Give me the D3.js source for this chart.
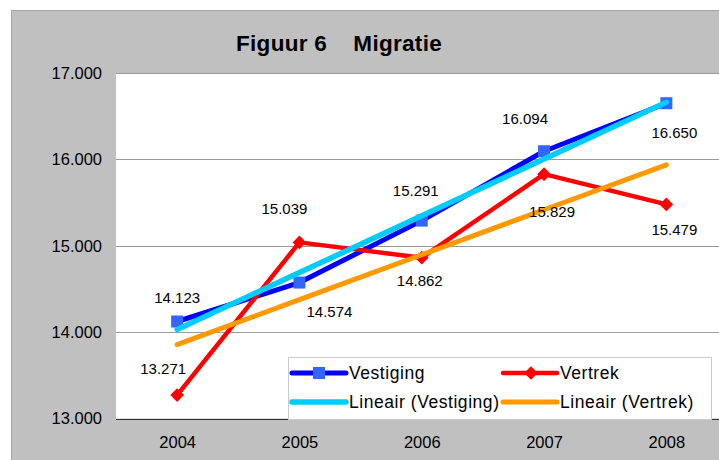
<!DOCTYPE html>
<html>
<head>
<meta charset="utf-8">
<script src="https://cdn.jsdelivr.net/npm/d3@7"></script>
<style>
  html, body { margin: 0; padding: 0; background: #ffffff; }
  svg { display: block; }
  text { font-family: "Liberation Sans", Arial, sans-serif; fill: #000; }
</style>
</head>
<body>
<svg id="chart" width="719" height="460"></svg>
<script>
// ---- data ----
const years = ["2004", "2005", "2006", "2007", "2008"];
const vestiging = [14123, 14574, 15291, 16094, 16650];
const vertrek = [13271, 15039, 14862, 15829, 15479];
const yTicks = [13000, 14000, 15000, 16000, 17000];
const seriesNames = ["Vestiging", "Vertrek", "Lineair (Vestiging)", "Lineair (Vertrek)"];
const titleText = "Figuur 6    Migratie";

// label placement (layout only)
const labelOffsetVestiging = [[0, -24], [30, 29], [-6, -30], [-19, -33], [8, 29]];
const labelOffsetVertrek = [[-14, -27], [-15, -34], [-2, 23], [8, 37], [8, 25]];

const fmt = v => d3.format(",")(v).replace(/,/g, ".");

const svg = d3.select("#chart");
const W = 719, H = 460;
const plot = { left: 116, top: 73, right: 727.5, bottom: 418.5 };

// outer chart area
svg.append("rect").attr("x", 11.5).attr("y", 10.5).attr("width", 760).attr("height", 500)
  .attr("fill", "#c0c0c0").attr("stroke", "#a6a6a6").attr("stroke-width", 1);

// plot area
svg.append("rect").attr("x", plot.left).attr("y", plot.top)
  .attr("width", plot.right - plot.left).attr("height", plot.bottom - plot.top)
  .attr("fill", "#ffffff");

const x = d3.scalePoint().domain(years).range([plot.left, plot.right]).padding(0.5);
const y = d3.scaleLinear().domain([13000, 17000]).range([plot.bottom, plot.top]);

// gridlines
svg.append("g").selectAll("line").data(yTicks.filter(t => t > 13000)).join("line")
  .attr("x1", plot.left).attr("x2", W)
  .attr("y1", d => Math.round(y(d)) + 0.5).attr("y2", d => Math.round(y(d)) + 0.5)
  .attr("stroke", "#9a9a9a").attr("stroke-width", 1);

// y axis labels
const yAxis = d3.axisLeft(y).tickValues(yTicks).tickFormat(d => d3.format(".3f")(d / 1000)).tickSize(0).tickPadding(14);
const yg = svg.append("g").attr("transform", `translate(${plot.left},0)`).call(yAxis);
yg.select(".domain").remove();
yg.selectAll("text").attr("font-size", 16.5).attr("font-family", "Liberation Sans, Arial, sans-serif").attr("fill", "#000");

// x axis
const xAxis = d3.axisBottom(x).tickSize(0).tickPadding(17);
const xg = svg.append("g").attr("transform", `translate(0,${Math.round(plot.bottom) + 0.5})`).call(xAxis);
xg.select(".domain").attr("stroke", "#333").attr("stroke-width", 1)
  .attr("d", `M${plot.left},0H${W}`);
xg.selectAll("text").attr("font-size", 16.5).attr("font-family", "Liberation Sans, Arial, sans-serif").attr("fill", "#000");

// title
svg.append("text").attr("x", 236).attr("y", 51)
  .attr("font-size", 22.5).attr("font-weight", "bold").attr("letter-spacing", 0.3)
  .style("white-space", "pre").attr("xml:space", "preserve")
  .text(titleText);

// regression for trend lines
function linreg(vals) {
  const xs = vals.map((_, i) => i + 1);
  const mx = d3.mean(xs), my = d3.mean(vals);
  const b = d3.sum(xs, (xi, i) => (xi - mx) * (vals[i] - my)) / d3.sum(xs, xi => (xi - mx) ** 2);
  const a = my - b * mx;
  return xs.map(xi => a + b * xi);
}
const trendVest = linreg(vestiging);
const trendVert = linreg(vertrek);

const line = d3.line().x((d, i) => x(years[i])).y(d => y(d));

const g = svg.append("g");

// Vestiging series
g.append("path").datum(vestiging).attr("d", line).attr("fill", "none")
  .attr("stroke", "#0000ff").attr("stroke-width", 5).attr("stroke-linejoin", "round");
g.selectAll(".sq").data(vestiging).join("rect").attr("class", "sq")
  .attr("x", (d, i) => x(years[i]) - 6).attr("y", d => y(d) - 6)
  .attr("width", 12).attr("height", 12).attr("fill", "#3366ff");

// Vertrek series
g.append("path").datum(vertrek).attr("d", line).attr("fill", "none")
  .attr("stroke", "#ff0000").attr("stroke-width", 4.5).attr("stroke-linejoin", "round");
const diamond = d3.symbol().type(d3.symbolDiamond2).size(120);
g.selectAll(".dm").data(vertrek).join("path").attr("class", "dm")
  .attr("d", diamond)
  .attr("transform", (d, i) => `translate(${x(years[i])},${y(d)})`)
  .attr("fill", "#ff0000");

// trend lines
g.append("path").datum(trendVest).attr("d", line).attr("fill", "none")
  .attr("stroke", "#00ccff").attr("stroke-width", 5.5).attr("stroke-linecap", "round");
g.append("path").datum(trendVert).attr("d", line).attr("fill", "none")
  .attr("stroke", "#ff9900").attr("stroke-width", 5).attr("stroke-linecap", "round");

// data labels
const lbl = svg.append("g").attr("font-size", 15).attr("text-anchor", "middle");
lbl.selectAll(".lv").data(vestiging).join("text").attr("class", "lv")
  .attr("x", (d, i) => x(years[i]) + labelOffsetVestiging[i][0])
  .attr("y", (d, i) => y(d) + labelOffsetVestiging[i][1])
  .attr("dominant-baseline", "central")
  .text(d => fmt(d));
lbl.selectAll(".lr").data(vertrek).join("text").attr("class", "lr")
  .attr("x", (d, i) => x(years[i]) + labelOffsetVertrek[i][0])
  .attr("y", (d, i) => y(d) + labelOffsetVertrek[i][1])
  .attr("dominant-baseline", "central")
  .text(d => fmt(d));

// legend
const lg = svg.append("g");
lg.append("rect").attr("x", 288.5).attr("y", 357.5).attr("width", 423).attr("height", 62)
  .attr("fill", "#ffffff").attr("stroke", "#cccccc").attr("stroke-width", 1);
const legendItems = [
  { name: seriesNames[0], col: 0, row: 0, color: "#0000ff", w: 5, marker: "sq" },
  { name: seriesNames[1], col: 1, row: 0, color: "#ff0000", w: 4.5, marker: "dm" },
  { name: seriesNames[2], col: 0, row: 1, color: "#00ccff", w: 5.5, marker: null },
  { name: seriesNames[3], col: 1, row: 1, color: "#ff9900", w: 5, marker: null }
];
const colX = [292, 503], rowY = [373, 402];
legendItems.forEach(it => {
  const x0 = colX[it.col], yy = rowY[it.row];
  lg.append("line").attr("x1", x0).attr("x2", x0 + 54).attr("y1", yy).attr("y2", yy)
    .attr("stroke", it.color).attr("stroke-width", it.w).attr("stroke-linecap", "round");
  if (it.marker === "sq") {
    lg.append("rect").attr("x", x0 + 21).attr("y", yy - 6).attr("width", 12).attr("height", 12).attr("fill", "#3366ff");
  } else if (it.marker === "dm") {
    lg.append("path").attr("d", diamond).attr("transform", `translate(${x0 + 28},${yy})`).attr("fill", "#ff0000");
  }
  lg.append("text").attr("x", x0 + 57).attr("y", yy).attr("dominant-baseline", "central")
    .attr("font-size", 17.5).attr("letter-spacing", 0.55).text(it.name);
});
</script>
</body>
</html>
